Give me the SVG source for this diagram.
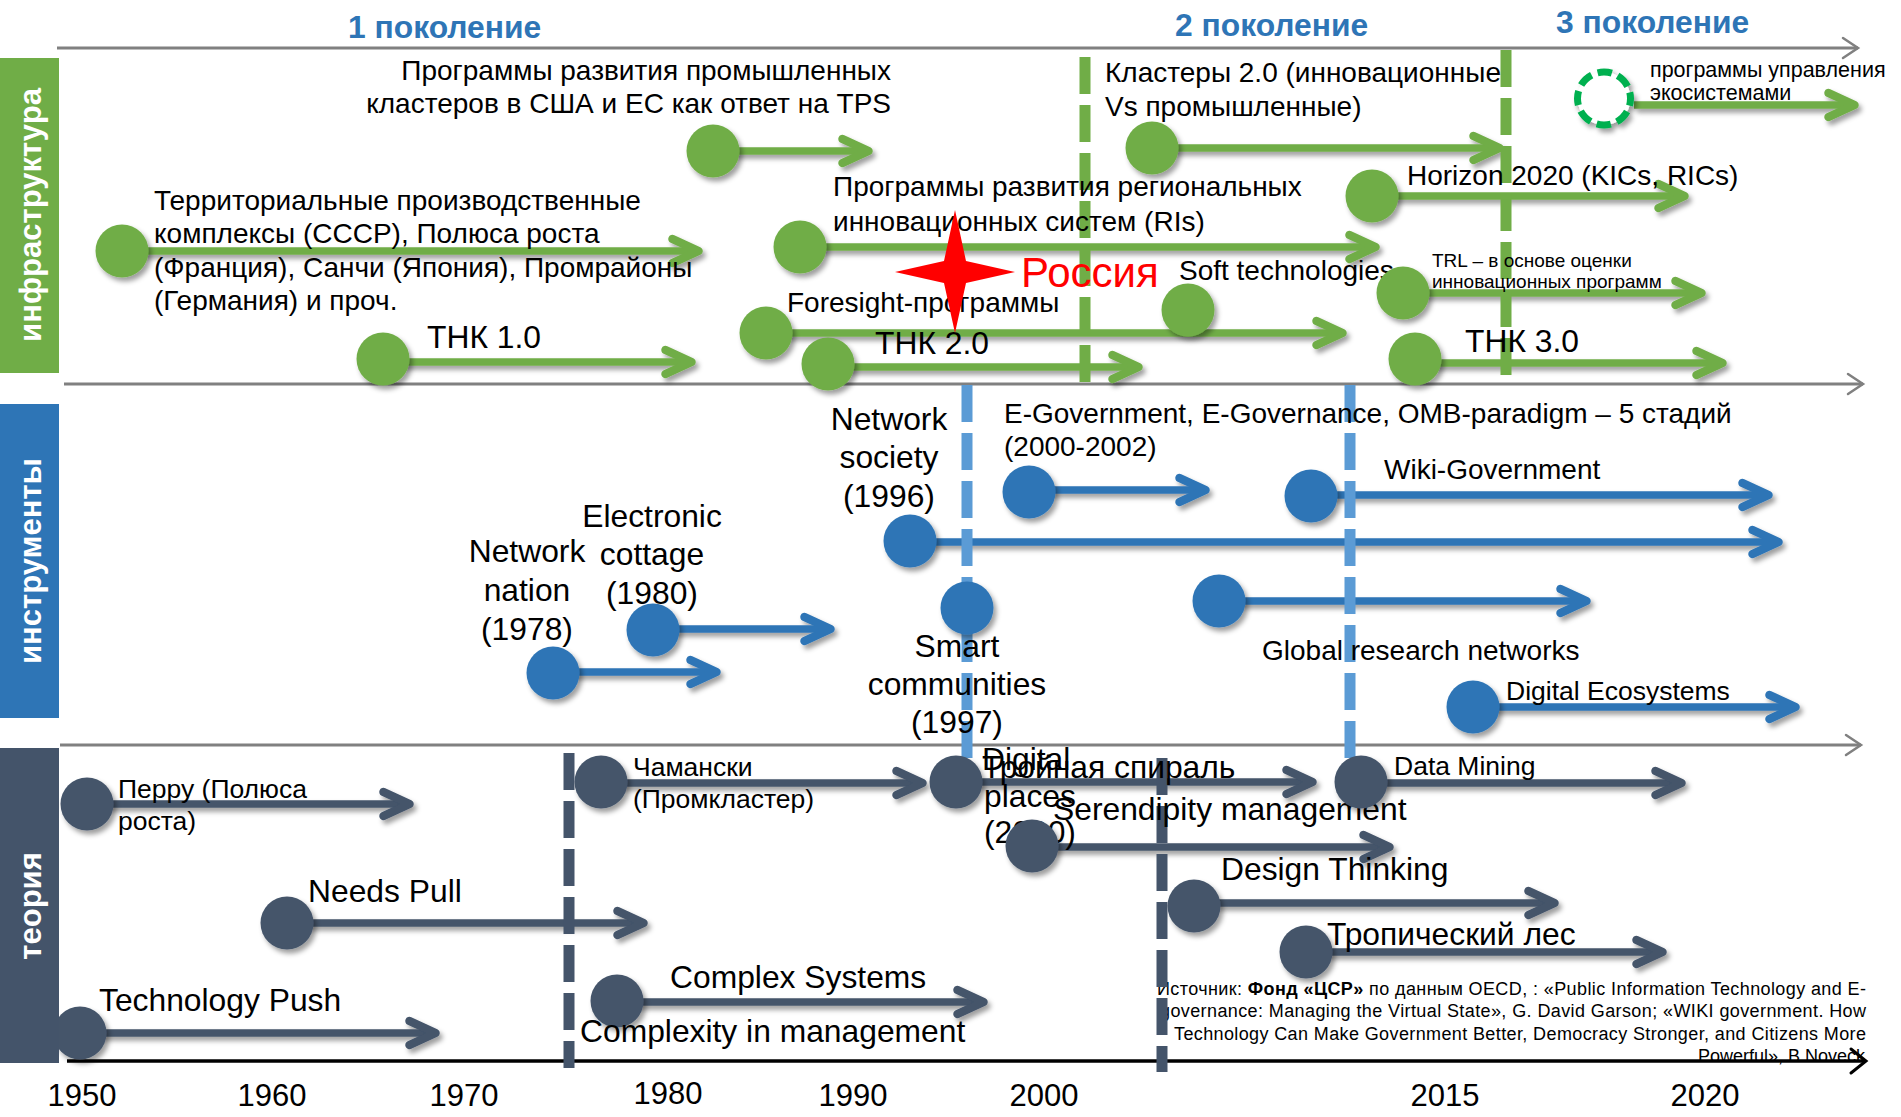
<svg xmlns="http://www.w3.org/2000/svg" width="1901" height="1117" viewBox="0 0 1901 1117">
<defs>
<style>
text{font-family:"Liberation Sans",Arial,sans-serif;fill:#000}
.t28{font-size:28px}
.t31{font-size:31.8px}
.t26{font-size:26.5px}
.t21{font-size:21.5px}
.t19{font-size:19px}
.mid{text-anchor:middle}
.gen{font-size:31.8px;font-weight:bold;fill:#2e75b6}
.side{font-size:31px;font-weight:bold;fill:#fff;text-anchor:middle}
.yr{font-size:31px;text-anchor:middle}
.src{font-size:18px}
.cg{fill:#70ad47}
.cb{fill:#2e75b6}
.cd{fill:#44546a}
.node circle{filter:url(#sh)}
.ln{stroke-width:7.5;fill:none}
.lg{stroke:#70ad47}
.lb{stroke:#2e75b6}
.ld{stroke:#44546a}
.ax{stroke:#808080;stroke-width:3;fill:none}
.dash{stroke-width:11;stroke-dasharray:37 11;fill:none}
</style>
<filter id="sh" x="-40%" y="-40%" width="190%" height="190%">
<feDropShadow dx="3" dy="4" stdDeviation="2.5" flood-color="#000" flood-opacity="0.38"/>
</filter>
<marker id="ag" markerUnits="userSpaceOnUse" viewBox="-35 -20 42 40" refX="0" refY="0" markerWidth="42" markerHeight="40" orient="auto" overflow="visible">
<path d="M-26,-12 L0,0 L-26,12" fill="none" stroke="#70ad47" stroke-width="8.5" stroke-linecap="round" stroke-linejoin="round"/>
</marker>
<marker id="ab" markerUnits="userSpaceOnUse" viewBox="-35 -20 42 40" refX="0" refY="0" markerWidth="42" markerHeight="40" orient="auto" overflow="visible">
<path d="M-26,-12 L0,0 L-26,12" fill="none" stroke="#2e75b6" stroke-width="8.5" stroke-linecap="round" stroke-linejoin="round"/>
</marker>
<marker id="ad" markerUnits="userSpaceOnUse" viewBox="-35 -20 42 40" refX="0" refY="0" markerWidth="42" markerHeight="40" orient="auto" overflow="visible">
<path d="M-26,-12 L0,0 L-26,12" fill="none" stroke="#44546a" stroke-width="8.5" stroke-linecap="round" stroke-linejoin="round"/>
</marker>
<marker id="axg" markerUnits="userSpaceOnUse" viewBox="-20 -14 24 28" refX="0" refY="0" markerWidth="24" markerHeight="28" orient="auto" overflow="visible">
<path d="M-15,-10 L0,0 L-15,10" fill="none" stroke="#808080" stroke-width="2.5" stroke-linecap="round"/>
</marker>
<marker id="axk" markerUnits="userSpaceOnUse" viewBox="-20 -14 24 28" refX="0" refY="0" markerWidth="24" markerHeight="28" orient="auto" overflow="visible">
<path d="M-15,-12 L0,0 L-15,12" fill="none" stroke="#000" stroke-width="3" stroke-linecap="round"/>
</marker>
</defs>
<rect width="1901" height="1117" fill="#fff"/>

<!-- source note -->
<g id="source">
<text class="src" x="1157" y="995" textLength="709" lengthAdjust="spacing">Источник: <tspan font-weight="bold">Фонд «ЦСР»</tspan> по данным OECD, : «Public Information Technology and E-</text>
<text class="src" x="1160" y="1017" textLength="706" lengthAdjust="spacing">governance: Managing the Virtual State», G. David Garson; «WIKI government. How</text>
<text class="src" x="1174" y="1040" textLength="692" lengthAdjust="spacing">Technology Can Make Government Better, Democracy Stronger, and Citizens More</text>
<text class="src" x="1865" y="1062" text-anchor="end">Powerful», B.Noveck</text>
</g>

<!-- axes -->
<g id="axes">
<line class="ax" x1="57" y1="48" x2="1858" y2="48" marker-end="url(#axg)"/>
<line class="ax" x1="64" y1="384" x2="1863" y2="384" marker-end="url(#axg)"/>
<line class="ax" x1="60" y1="745" x2="1861" y2="745" marker-end="url(#axg)"/>
<line x1="67" y1="1061" x2="1866" y2="1061" stroke="#000" stroke-width="3.5" marker-end="url(#axk)"/>
</g>

<!-- connectors -->
<g id="connectors" filter="url(#sh)">
<line class="ln lg" x1="140" y1="251" x2="698.5" y2="251" marker-end="url(#ag)"/>
<line class="ln lg" x1="730" y1="151" x2="868.5" y2="151" marker-end="url(#ag)"/>
<line class="ln lg" x1="400" y1="362" x2="691.5" y2="362" marker-end="url(#ag)"/>
<line class="ln lg" x1="815" y1="247" x2="1375.5" y2="247" marker-end="url(#ag)"/>
<line class="ln lg" x1="780" y1="333" x2="1342.5" y2="333" marker-end="url(#ag)"/>
<line class="ln lg" x1="845" y1="367" x2="1138.5" y2="367" marker-end="url(#ag)"/>
<line class="ln lg" x1="1170" y1="148" x2="1499.5" y2="148" marker-end="url(#ag)"/>
<line class="ln lg" x1="1634" y1="105" x2="1854.5" y2="105" marker-end="url(#ag)"/>
<line class="ln lg" x1="1390" y1="196" x2="1684.5" y2="196" marker-end="url(#ag)"/>
<line class="ln lg" x1="1420" y1="293" x2="1701.5" y2="293" marker-end="url(#ag)"/>
<line class="ln lg" x1="1430" y1="363" x2="1722.5" y2="363" marker-end="url(#ag)"/>
<line class="ln lb" x1="925" y1="542" x2="1778.5" y2="542" marker-end="url(#ab)"/>
<line class="ln lb" x1="1045" y1="490" x2="1205.5" y2="490" marker-end="url(#ab)"/>
<line class="ln lb" x1="1325" y1="495" x2="1768.5" y2="495" marker-end="url(#ab)"/>
<line class="ln lb" x1="670" y1="629" x2="830.5" y2="629" marker-end="url(#ab)"/>
<line class="ln lb" x1="570" y1="672" x2="716.5" y2="672" marker-end="url(#ab)"/>
<line class="ln lb" x1="1235" y1="601" x2="1586.5" y2="601" marker-end="url(#ab)"/>
<line class="ln lb" x1="1490" y1="707" x2="1795.5" y2="707" marker-end="url(#ab)"/>
<line class="ln ld" x1="100" y1="804" x2="409.5" y2="804" marker-end="url(#ad)"/>
<line class="ln ld" x1="300" y1="923" x2="643.5" y2="923" marker-end="url(#ad)"/>
<line class="ln ld" x1="95" y1="1033" x2="435.5" y2="1033" marker-end="url(#ad)"/>
<line class="ln ld" x1="615" y1="783" x2="922.5" y2="783" marker-end="url(#ad)"/>
<line class="ln ld" x1="630" y1="1002" x2="983.5" y2="1002" marker-end="url(#ad)"/>
<line class="ln ld" x1="970" y1="782" x2="1312.5" y2="782" marker-end="url(#ad)"/>
<line class="ln ld" x1="1045" y1="847" x2="1389.5" y2="847" marker-end="url(#ad)"/>
<line class="ln ld" x1="1375" y1="783" x2="1681.5" y2="783" marker-end="url(#ad)"/>
<line class="ln ld" x1="1210" y1="903" x2="1554.5" y2="903" marker-end="url(#ad)"/>
<line class="ln ld" x1="1320" y1="952" x2="1662.5" y2="952" marker-end="url(#ad)"/>
</g>

<!-- generation boundaries -->
<g id="boundaries">
<line class="dash" x1="1085" y1="57" x2="1085" y2="384" stroke="#70ad47"/>
<line class="dash" x1="1506" y1="50" x2="1506" y2="377" stroke="#70ad47"/>
<line class="dash" x1="967" y1="385" x2="967" y2="760" stroke="#5b9bd5"/>
<line class="dash" x1="1350" y1="385" x2="1350" y2="760" stroke="#5b9bd5"/>
<line class="dash" x1="569" y1="753" x2="569" y2="1068" stroke="#44546a"/>
<line class="dash" x1="1162" y1="758" x2="1162" y2="1072" stroke="#44546a"/>
</g>

<!-- infrastructure nodes -->
<g id="n-territorial" class="node">
<circle class="cg" cx="122" cy="251" r="26.5"/>
<text class="t28"><tspan x="154" y="210">Территориальные производственные</tspan><tspan x="154" y="243">комплексы (СССР), Полюса роста</tspan><tspan x="154" y="277">(Франция), Санчи (Япония), Промрайоны</tspan><tspan x="154" y="310">(Германия) и проч.</tspan></text>
</g>
<g id="n-clusters-tps" class="node">
<circle class="cg" cx="713" cy="151" r="26.5"/>
<text class="t28" text-anchor="end"><tspan x="891" y="80">Программы развития промышленных</tspan><tspan x="891" y="113">кластеров в США и ЕС как ответ на TPS</tspan></text>
</g>
<g id="n-tnk1" class="node">
<circle class="cg" cx="383" cy="359" r="26.5"/>
<text class="t31" x="427" y="348">ТНК 1.0</text>
</g>
<g id="n-regional" class="node">
<circle class="cg" cx="800" cy="247" r="26.5"/>
<text class="t28"><tspan x="833" y="196">Программы развития региональных</tspan><tspan x="833" y="231">инновационных систем (RIs)</tspan></text>
</g>
<g id="n-foresight" class="node">
<circle class="cg" cx="766" cy="333" r="26.5"/>
<text class="t28" x="787" y="312">Foresight-программы</text>
</g>
<g id="n-tnk2" class="node">
<circle class="cg" cx="828" cy="364" r="26.5"/>
<text class="t31" x="875" y="354">ТНК 2.0</text>
</g>
<g id="n-russia">
<polygon points="955,210 966,261 1015,272 966,283 955,333 944,283 895,272 944,261" fill="#ff0000"/>
<text x="1021" y="287" style="font-size:42px;fill:#ff0000">Россия</text>
</g>
<g id="n-clusters2" class="node">
<circle class="cg" cx="1152" cy="148" r="26.5"/>
<text class="t28"><tspan x="1105" y="82">Кластеры 2.0 (инновационные</tspan><tspan x="1105" y="116">Vs промышленные)</tspan></text>
</g>
<g id="n-ecosystems" class="node">
<circle cx="1604" cy="98.5" r="26.5" fill="#fff" stroke="#00b050" stroke-width="7" stroke-dasharray="14.5 6.3" stroke-dashoffset="7.25"/>
<text class="t21"><tspan x="1650" y="77">программы управления</tspan><tspan x="1650" y="100">экосистемами</tspan></text>
</g>
<g id="n-horizon" class="node">
<circle class="cg" cx="1372" cy="196" r="26.5"/>
<text class="t28" x="1407" y="185">Horizon 2020 (KICs, RICs)</text>
</g>
<g id="n-soft" class="node">
<circle class="cg" cx="1188" cy="310" r="26.5"/>
<text class="t28" x="1179" y="280">Soft technologies</text>
</g>
<g id="n-trl" class="node">
<circle class="cg" cx="1403" cy="293" r="26.5"/>
<text class="t19"><tspan x="1432" y="267">TRL – в основе оценки</tspan><tspan x="1432" y="288">инновационных программ</tspan></text>
</g>
<g id="n-tnk3" class="node">
<circle class="cg" cx="1415" cy="359" r="26.5"/>
<text class="t31" x="1465" y="352">ТНК 3.0</text>
</g>

<!-- instruments nodes -->
<g id="n-network-society" class="node">
<circle class="cb" cx="910" cy="541" r="26.5"/>
<text class="t31 mid"><tspan x="889" y="430">Network</tspan><tspan x="889" y="468">society</tspan><tspan x="889" y="507">(1996)</tspan></text>
</g>
<g id="n-egov" class="node">
<circle class="cb" cx="1029" cy="492" r="26.5"/>
<text class="t28"><tspan x="1004" y="423">E-Government, E-Governance, OMB-paradigm – 5 стадий</tspan><tspan x="1004" y="456">(2000-2002)</tspan></text>
</g>
<g id="n-wiki" class="node">
<circle class="cb" cx="1311" cy="496" r="26.5"/>
<text class="t28" x="1384" y="479">Wiki-Government</text>
</g>
<g id="n-electronic-cottage" class="node">
<circle class="cb" cx="653" cy="630" r="26.5"/>
<text class="t31 mid"><tspan x="652" y="527">Electronic</tspan><tspan x="652" y="565">cottage</tspan><tspan x="652" y="604">(1980)</tspan></text>
</g>
<g id="n-network-nation" class="node">
<circle class="cb" cx="553" cy="673" r="26.5"/>
<text class="t31 mid"><tspan x="527" y="562">Network</tspan><tspan x="527" y="601">nation</tspan><tspan x="527" y="640">(1978)</tspan></text>
</g>
<g id="n-smart" class="node">
<circle class="cb" cx="967" cy="608" r="26.5"/>
<text class="t31 mid"><tspan x="957" y="657">Smart</tspan><tspan x="957" y="695">communities</tspan><tspan x="957" y="733">(1997)</tspan></text>
</g>
<g id="n-global" class="node">
<circle class="cb" cx="1219" cy="601" r="26.5"/>
<text class="t28" x="1262" y="660">Global research networks</text>
</g>
<g id="n-digital-eco" class="node">
<circle class="cb" cx="1473" cy="707" r="26.5"/>
<text class="t26" x="1506" y="700">Digital Ecosystems</text>
</g>

<!-- theory nodes -->
<g id="n-perroux" class="node">
<circle class="cd" cx="87" cy="804" r="26.5"/>
<text class="t26"><tspan x="118" y="798">Перру (Полюса</tspan><tspan x="118" y="830">роста)</tspan></text>
</g>
<g id="n-needs" class="node">
<circle class="cd" cx="287" cy="923" r="26.5"/>
<text class="t31" x="308" y="902">Needs Pull</text>
</g>
<g id="n-techpush" class="node">
<circle class="cd" cx="80" cy="1033" r="26.5"/>
<text class="t31" x="99" y="1011">Technology Push</text>
</g>
<g id="n-chamanski" class="node">
<circle class="cd" cx="601" cy="782" r="26.5"/>
<text class="t26"><tspan x="633" y="776">Чамански</tspan><tspan x="633" y="808">(Промкластер)</tspan></text>
</g>
<g id="n-complex" class="node">
<circle class="cd" cx="617" cy="1001" r="26.5"/>
<text class="t31" x="670" y="988">Complex Systems</text>
<text class="t31" x="580" y="1042">Complexity in management</text>
</g>
<g id="n-digital-places" class="node">
<circle class="cd" cx="956" cy="782" r="26.5"/>
<text class="t31"><tspan x="982" y="770">Digital</tspan><tspan x="984" y="807">places</tspan><tspan x="984" y="843">(2000)</tspan></text>
<text class="t31" x="982" y="778">Тройная спираль</text>
</g>
<g id="n-serendipity" class="node">
<circle class="cd" cx="1032" cy="846" r="26.5"/>
<text class="t31" x="1053" y="820">Serendipity management</text>
</g>
<g id="n-datamining" class="node">
<circle class="cd" cx="1361" cy="782" r="26.5"/>
<text class="t26" x="1394" y="775">Data Mining</text>
</g>
<g id="n-design" class="node">
<circle class="cd" cx="1194" cy="906" r="26.5"/>
<text class="t31" x="1221" y="880">Design Thinking</text>
</g>
<g id="n-tropical" class="node">
<circle class="cd" cx="1306" cy="952" r="26.5"/>
<text class="t31" x="1327" y="945">Тропический лес</text>
</g>

<!-- side labels -->
<g id="side-infra">
<rect x="0" y="58" width="59" height="315" fill="#70ad47"/>
<text class="side" transform="translate(41,215) rotate(-90)">инфраструктура</text>
</g>
<g id="side-instr">
<rect x="0" y="404" width="59" height="314" fill="#2e75b6"/>
<text class="side" transform="translate(41,561) rotate(-90)">инструменты</text>
</g>
<g id="side-theory">
<rect x="0" y="748" width="59" height="315" fill="#44546a"/>
<text class="side" transform="translate(41,906) rotate(-90)">теория</text>
</g>

<!-- generation labels -->
<g id="generations">
<text class="gen" x="348" y="38">1 поколение</text>
<text class="gen" x="1175" y="36">2 поколение</text>
<text class="gen" x="1556" y="33">3 поколение</text>
</g>

<!-- years -->
<g id="years">
<text class="yr" x="82" y="1106">1950</text>
<text class="yr" x="272" y="1106">1960</text>
<text class="yr" x="464" y="1106">1970</text>
<text class="yr" x="668" y="1104">1980</text>
<text class="yr" x="853" y="1106">1990</text>
<text class="yr" x="1044" y="1106">2000</text>
<text class="yr" x="1445" y="1106">2015</text>
<text class="yr" x="1705" y="1106">2020</text>
</g>
</svg>
